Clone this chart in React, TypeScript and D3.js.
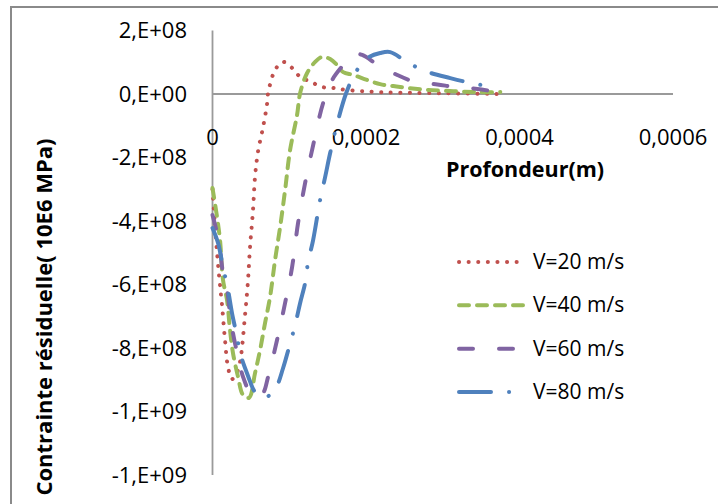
import React, { useRef, useEffect } from 'react';
import * as d3 from 'd3';

// depth in m, residual stress in Pa
const depth20 = [0, 4.6e-6, 8.5e-6, 12.4e-6, 16.3e-6, 20.2e-6, 25.4e-6, 32e-6, 35.9e-6, 42.4e-6, 46.3e-6, 48.9e-6, 52.8e-6, 55.4e-6, 59.4e-6, 65.9e-6, 71.1e-6, 72.4e-6, 76.3e-6, 81.5e-6, 91.9e-6, 103.7e-6, 114.2e-6, 128.5e-6, 142.9e-6, 157.2e-6, 174.2e-6, 218.5e-6, 283.7e-6, 375e-6];
const stress20 = [-3.0e8, -4.6e8, -5.7e8, -6.65e8, -7.75e8, -8.6e8, -8.98e8, -8.76e8, -8.44e8, -6.96e8, -5.86e8, -4.82e8, -3.65e8, -2.61e8, -1.8e8, -1.04e8, -0.31e8, 0.03e8, 0.41e8, 0.76e8, 1.01e8, 0.82e8, 0.54e8, 0.38e8, 0.22e8, 0.19e8, 0.13e8, 0.06e8, 0.03e8, 0];

const depth40 = [0, 5.9e-6, 9.8e-6, 13.7e-6, 18.9e-6, 22.8e-6, 26.7e-6, 33.3e-6, 39.8e-6, 47.6e-6, 55.4e-6, 62e-6, 68.5e-6, 75e-6, 81.5e-6, 88.1e-6, 94.6e-6, 101.1e-6, 110.2e-6, 114.2e-6, 123.3e-6, 133.7e-6, 142.9e-6, 153.3e-6, 162.4e-6, 170.3e-6, 183.3e-6, 201.6e-6, 218.5e-6, 235.5e-6, 253.8e-6, 279.8e-6, 313.8e-6, 345.1e-6, 375e-6];
const stress40 = [-2.96e8, -3.87e8, -4.6e8, -5.86e8, -6.49e8, -7.43e8, -8.16e8, -8.91e8, -9.48e8, -9.57e8, -8.79e8, -8.06e8, -7.21e8, -6.39e8, -5.23e8, -4.19e8, -3.02e8, -1.76e8, -0.66e8, 0.03e8, 0.66e8, 1.01e8, 1.17e8, 1.1e8, 0.91e8, 0.69e8, 0.6e8, 0.44e8, 0.31e8, 0.25e8, 0.19e8, 0.13e8, 0.09e8, 0.06e8, 0.06e8];

const depth60 = [0, 5.9e-6, 9.8e-6, 13.7e-6, 18.9e-6, 22.8e-6, 26.7e-6, 33.3e-6, 39.8e-6, 48.9e-6, 58.1e-6, 65.9e-6, 72.4e-6, 84.1e-6, 94.6e-6, 103.7e-6, 111.5e-6, 120.7e-6, 129.8e-6, 144.2e-6, 155.9e-6, 170.3e-6, 183.3e-6, 195e-6, 215.9e-6, 240.7e-6, 264.2e-6, 292.9e-6, 316.4e-6, 345.1e-6, 371.2e-6];
const stress60 = [-3.81e8, -4.38e8, -4.91e8, -5.64e8, -6.17e8, -6.9e8, -7.53e8, -8.28e8, -8.91e8, -9.39e8, -9.54e8, -9.42e8, -8.91e8, -7.75e8, -6.58e8, -5.45e8, -4.06e8, -2.8e8, -1.76e8, -0.28e8, 0.44e8, 0.91e8, 1.26e8, 1.23e8, 0.91e8, 0.6e8, 0.38e8, 0.3e8, 0.22e8, 0.16e8, 0.06e8];

const depth80 = [0, 7.2e-6, 13.7e-6, 20.2e-6, 25.4e-6, 32e-6, 35.9e-6, 46.3e-6, 55.4e-6, 64.6e-6, 75e-6, 82.8e-6, 92e-6, 99.8e-6, 107.6e-6, 114.2e-6, 120.7e-6, 124.6e-6, 131.1e-6, 140.2e-6, 146.8e-6, 153.3e-6, 162.4e-6, 174.2e-6, 185.9e-6, 201.6e-6, 218.5e-6, 231.6e-6, 255e-6, 281.1e-6, 309.8e-6, 335.9e-6, 364.6e-6];
const stress80 = [-4.22e8, -4.69e8, -5.45e8, -6.17e8, -6.9e8, -7.65e8, -8.16e8, -8.88e8, -9.39e8, -9.57e8, -9.48e8, -9.26e8, -8.63e8, -7.97e8, -7.28e8, -6.58e8, -5.95e8, -5.29e8, -4.6e8, -3.34e8, -2.61e8, -1.86e8, -0.94e8, 0.03e8, 0.66e8, 1.13e8, 1.29e8, 1.32e8, 0.98e8, 0.69e8, 0.5e8, 0.35e8, 0.22e8];

const seriesNames = ['V=20 m/s', 'V=40 m/s', 'V=60 m/s', 'V=80 m/s'];
const seriesColors = ['#C0504D', '#9BBB59', '#8064A2', '#4F81BD'];
const seriesDash = ['0.1 9.5', '10 8', '14 26', '32 18 0.1 18'];

const yTicks = [2e8, 0, -2e8, -4e8, -6e8, -8e8, -1e9, -1.2e9];
const yTickLabels = ['2,E+08', '0,E+00', '-2,E+08', '-4,E+08', '-6,E+08', '-8,E+08', '-1,E+09', '-1,E+09'];
const xTicks = [0, 0.0002, 0.0004, 0.0006];
const xTickLabels = ['0', '0,0002', '0,0004', '0,0006'];

const App = () => {
  const ref = useRef<HTMLDivElement>(null);

  useEffect(() => {
    const width = 718;
    const height = 504;
    const font = "'Open Sans', sans-serif";

    const x = d3.scaleLinear().domain([0, 0.0006]).range([212.5, 673]);
    const y = d3.scaleLinear().domain([2e8, -1.2e9]).range([30.5, 475]);

    const depths = [depth20, depth40, depth60, depth80];
    const stresses = [stress20, stress40, stress60, stress80];
    const data = depths.map((ds, i) => ds.map((d, j) => [d, stresses[i][j]] as [number, number]));

    const root = d3.select(ref.current);
    root.selectAll('*').remove();
    const svg = root.append('svg')
      .attr('width', width)
      .attr('height', height)
      .style('display', 'block');

    svg.append('rect').attr('width', width).attr('height', height).attr('fill', '#fff');

    // outer chart border (top and left visible)
    svg.append('path')
      .attr('d', `M11,${height} L11,7 L${width},7`)
      .attr('fill', 'none')
      .attr('stroke', '#8a8a8a')
      .attr('stroke-width', 2);

    // axes
    svg.append('line')
      .attr('x1', x(0)).attr('x2', x(0))
      .attr('y1', y(2e8)).attr('y2', y(-1.2e9))
      .attr('stroke', '#9a9a9a').attr('stroke-width', 1.8);
    svg.append('line')
      .attr('x1', x(0)).attr('x2', x(0.0006))
      .attr('y1', y(0)).attr('y2', y(0))
      .attr('stroke', '#9a9a9a').attr('stroke-width', 1.8);

    svg.append('g')
      .selectAll('text')
      .data(yTicks)
      .join('text')
      .attr('x', 187)
      .attr('y', d => y(d) + 7.5)
      .attr('text-anchor', 'end')
      .attr('font-family', font)
      .attr('font-size', 22)
      .attr('fill', '#000')
      .text((d, i) => yTickLabels[i]);

    svg.append('g')
      .selectAll('text')
      .data(xTicks)
      .join('text')
      .attr('x', d => x(d))
      .attr('y', 144.5)
      .attr('text-anchor', 'middle')
      .attr('font-family', font)
      .attr('font-size', 22)
      .attr('fill', '#000')
      .text((d, i) => xTickLabels[i]);

    svg.append('text')
      .attr('x', 525)
      .attr('y', 177)
      .attr('text-anchor', 'middle')
      .attr('font-family', font)
      .attr('font-weight', 'bold')
      .attr('font-size', 21.5)
      .attr('fill', '#000')
      .text('Profondeur(m)');

    svg.append('text')
      .attr('transform', 'translate(44,317) rotate(-90)')
      .attr('dy', '0.35em')
      .attr('text-anchor', 'middle')
      .attr('font-family', font)
      .attr('font-weight', 'bold')
      .attr('font-size', 22)
      .attr('fill', '#000')
      .text('Contrainte résiduelle( 10E6 MPa)');

    const lineGen = d3.line<[number, number]>()
      .x(d => x(d[0]))
      .y(d => y(d[1]))
      .curve(d3.curveCatmullRom.alpha(0.5));

    svg.append('g')
      .selectAll('path')
      .data(data)
      .join('path')
      .attr('d', d => lineGen(d))
      .attr('fill', 'none')
      .attr('stroke', (d, i) => seriesColors[i])
      .attr('stroke-width', 4)
      .attr('stroke-linecap', 'round')
      .attr('stroke-linejoin', 'round')
      .attr('stroke-dasharray', (d, i) => seriesDash[i]);

    // legend
    const legendY = d3.scaleLinear().domain([0, 3]).range([262, 392]);
    const legend = svg.append('g')
      .selectAll('g')
      .data(seriesNames)
      .join('g')
      .attr('transform', (d, i) => `translate(0,${legendY(i)})`);

    legend.append('line')
      .attr('x1', 459).attr('x2', 523)
      .attr('y1', 0).attr('y2', 0)
      .attr('stroke', (d, i) => seriesColors[i])
      .attr('stroke-width', 4)
      .attr('stroke-linecap', 'round')
      .attr('stroke-dasharray', (d, i) => seriesDash[i]);

    legend.append('text')
      .attr('x', 533)
      .attr('y', 7)
      .attr('font-family', font)
      .attr('font-size', 21)
      .attr('fill', '#000')
      .text(d => d);
  }, []);

  return (
    <div ref={ref} style={{ position: 'absolute', left: 0, top: 0, width: 718, height: 504 }} />
  );
};

export default App;
